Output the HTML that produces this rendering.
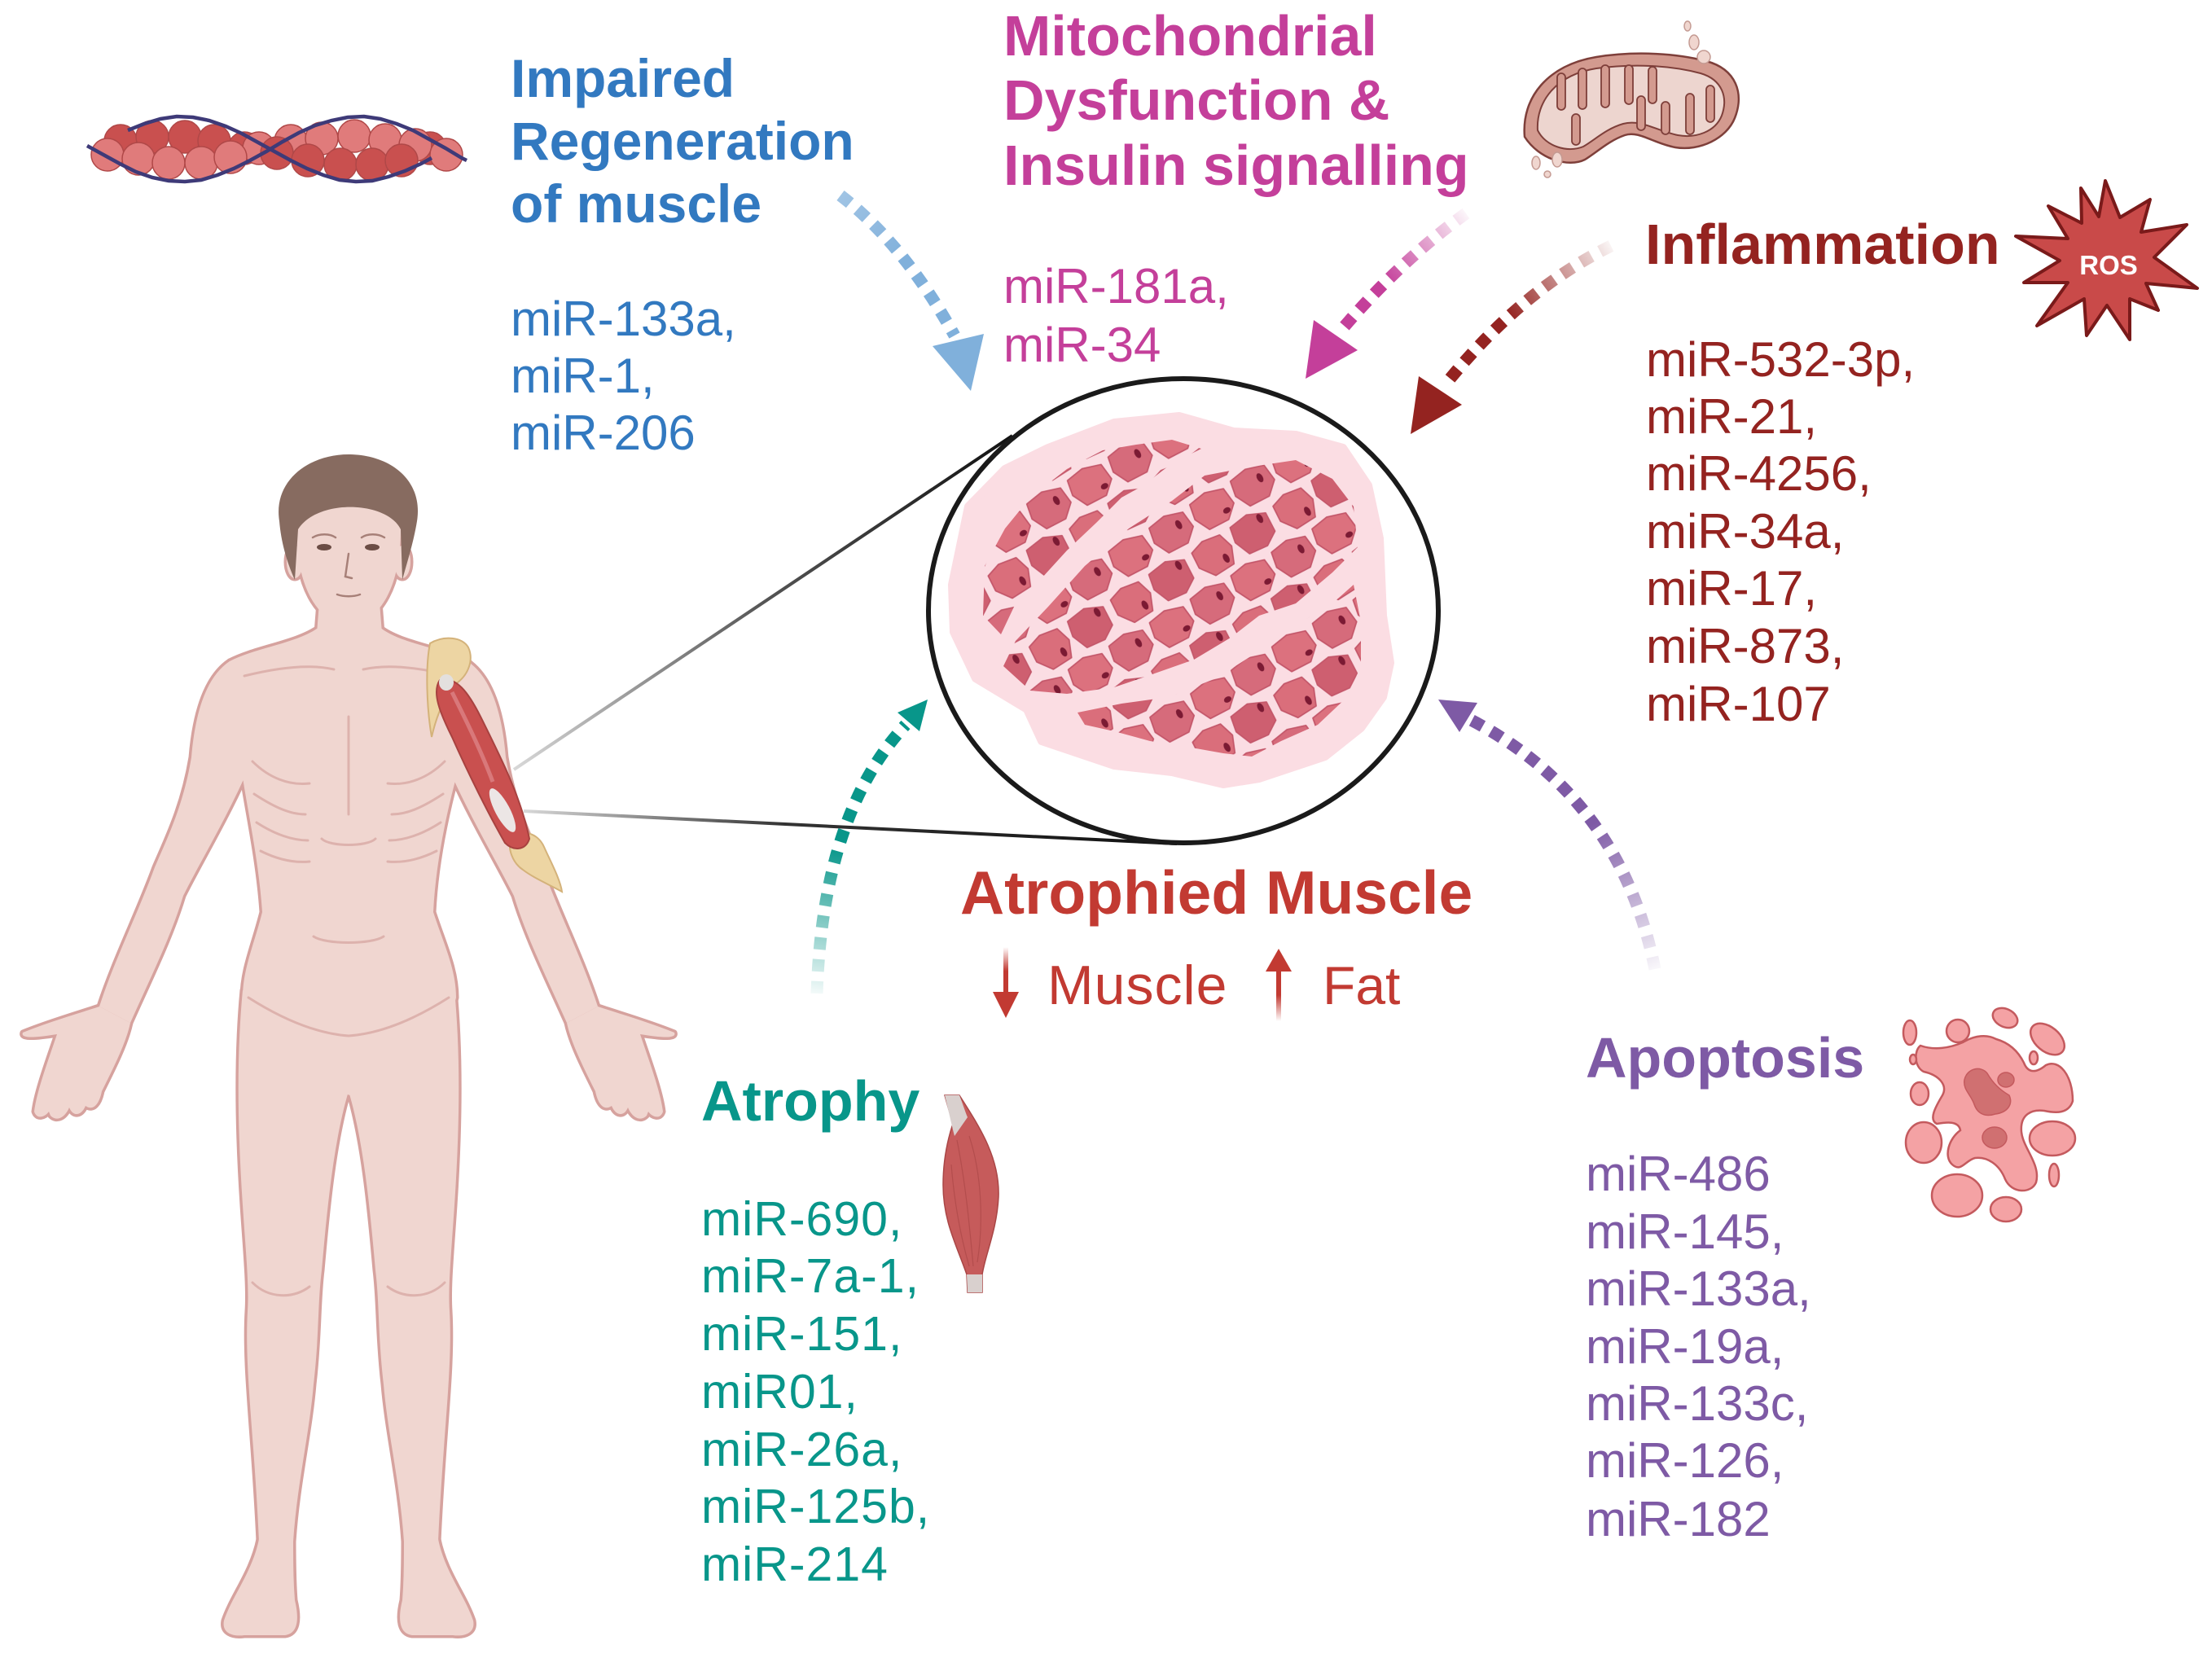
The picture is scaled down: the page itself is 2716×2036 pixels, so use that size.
<!DOCTYPE html>
<html><head><meta charset="utf-8"><style>
html,body{margin:0;padding:0;background:#fff;}
svg{display:block;}
text{font-family:"Liberation Sans",Arial,sans-serif;}
</style></head><body>
<svg width="2716" height="2036" viewBox="0 0 2716 2036" xmlns="http://www.w3.org/2000/svg">
<defs>
<pattern id="cells" patternUnits="userSpaceOnUse" width="96" height="84" patternTransform="rotate(-30) scale(1.2)">
 <g stroke="#C4576A" stroke-width="1.5" stroke-linejoin="round">
  <polygon points="5,8 20,3 39,6 44,22 37,39 15,40 4,25" fill="#DA6E7B"/>
  <polygon points="52,5 73,2 91,10 90,31 76,40 56,38 49,21" fill="#CE5F70"/>
  <polygon points="28,48 47,45 66,51 68,69 55,81 33,80 25,64" fill="#DC717E"/>
  <polygon points="76,48 95,45 114,51 116,69 103,81 81,80 73,64" fill="#D66B7B"/>
  <polygon points="-20,48 -1,45 18,51 20,69 7,81 -15,80 -23,64" fill="#D66B7B"/>
 </g>
 <g fill="#7B1A33">
  <ellipse cx="33" cy="30" rx="3" ry="5"/><ellipse cx="83" cy="12" rx="3" ry="5"/>
  <ellipse cx="58" cy="72" rx="4" ry="3"/><ellipse cx="8" cy="60" rx="3" ry="5"/><ellipse cx="104" cy="60" rx="3" ry="5"/>
 </g>
</pattern>
<linearGradient id="lnUp" gradientUnits="userSpaceOnUse" x1="631" y1="945" x2="1243" y2="535"><stop offset="0" stop-color="#d8d8d8"/><stop offset="0.5" stop-color="#555"/><stop offset="1" stop-color="#111"/></linearGradient>
<linearGradient id="lnLo" gradientUnits="userSpaceOnUse" x1="643" y1="996" x2="1445" y2="1036"><stop offset="0" stop-color="#d8d8d8"/><stop offset="0.4" stop-color="#333"/><stop offset="1" stop-color="#111"/></linearGradient>
<linearGradient id="gBlue" gradientUnits="userSpaceOnUse" x1="1032" y1="240" x2="1110" y2="320"><stop offset="0" stop-color="#80B0DB" stop-opacity="0.75"/><stop offset="1" stop-color="#80B0DB"/></linearGradient>
<linearGradient id="gMag" gradientUnits="userSpaceOnUse" x1="1800" y1="262" x2="1700" y2="345"><stop offset="0" stop-color="#C43F9A" stop-opacity="0.05"/><stop offset="1" stop-color="#C43F9A"/></linearGradient>
<linearGradient id="gRed" gradientUnits="userSpaceOnUse" x1="1978" y1="302" x2="1850" y2="385"><stop offset="0" stop-color="#942320" stop-opacity="0.05"/><stop offset="1" stop-color="#942320"/></linearGradient>
<linearGradient id="gPur" gradientUnits="userSpaceOnUse" x1="2032" y1="1190" x2="1950" y2="1015"><stop offset="0" stop-color="#7E5AA5" stop-opacity="0.05"/><stop offset="1" stop-color="#7E5AA5"/></linearGradient>
<linearGradient id="gTeal" gradientUnits="userSpaceOnUse" x1="1003" y1="1220" x2="1030" y2="1040"><stop offset="0" stop-color="#08968A" stop-opacity="0.05"/><stop offset="1" stop-color="#08968A"/></linearGradient>
<linearGradient id="gDown" gradientUnits="userSpaceOnUse" x1="0" y1="1163" x2="0" y2="1222"><stop offset="0" stop-color="#C23A32" stop-opacity="0"/><stop offset="0.5" stop-color="#C23A32"/></linearGradient>
<linearGradient id="gUp" gradientUnits="userSpaceOnUse" x1="0" y1="1190" x2="0" y2="1254"><stop offset="0.5" stop-color="#C23A32"/><stop offset="1" stop-color="#C23A32" stop-opacity="0"/></linearGradient>
</defs>

<line x1="631" y1="945" x2="1243" y2="535" stroke="url(#lnUp)" stroke-width="4"/>
<line x1="643" y1="996" x2="1445" y2="1036" stroke="url(#lnLo)" stroke-width="4"/>

<ellipse cx="1453" cy="750" rx="313" ry="285" fill="#fff" stroke="#1a1a1a" stroke-width="6"/>
<polygon points="1171,776 1169,718 1189,622 1234,576 1287,550 1368,519 1448,511 1515,530 1591,534 1649,550 1680,596 1694,661 1698,756 1707,814 1698,856 1671,894 1627,929 1546,956 1502,963 1439,948 1368,940 1279,910 1261,871 1198,833" fill="#FBDDE3" stroke="#FBDDE3" stroke-width="10" stroke-linejoin="round"/>
<g fill="url(#cells)" stroke="none">
 <polygon points="1209,695 1234,649 1265,611 1310,576 1354,553 1395,546 1439,540 1475,551 1439,569 1404,596 1377,611 1346,642 1310,676 1279,710 1247,741 1229,779 1207,756"/>
 <polygon points="1232,818 1247,787 1287,745 1332,695 1386,649 1439,615 1479,584 1537,573 1591,565 1636,588 1662,622 1667,672 1636,703 1591,741 1546,756 1511,783 1466,810 1412,829 1368,844 1310,852 1265,848"/>
 <polygon points="1323,875 1377,864 1435,856 1493,833 1542,802 1591,768 1636,741 1662,718 1671,764 1671,818 1654,856 1618,890 1573,910 1537,929 1502,925 1457,917 1412,910 1368,898 1332,890"/>
</g>

<g stroke="#B04848" stroke-width="1.5">
 <g fill="#C9504F">
  <circle cx="148" cy="173" r="20"/><circle cx="187" cy="168" r="20"/><circle cx="227" cy="168" r="20"/><circle cx="263" cy="173" r="20"/><circle cx="300" cy="182" r="20"/><circle cx="528" cy="182" r="20"/>
 </g>
 <g fill="#E07B7B">
  <circle cx="318" cy="182" r="20"/><circle cx="357" cy="173" r="20"/><circle cx="395" cy="170" r="20"/><circle cx="435" cy="167" r="20"/><circle cx="473" cy="172" r="20"/><circle cx="510" cy="178" r="20"/>
  <circle cx="132" cy="190" r="20"/><circle cx="170" cy="195" r="20"/><circle cx="207" cy="200" r="20"/><circle cx="247" cy="200" r="20"/><circle cx="283" cy="193" r="20"/><circle cx="548" cy="190" r="20"/>
 </g>
 <g fill="#C9504F">
  <circle cx="340" cy="188" r="20"/><circle cx="378" cy="197" r="20"/><circle cx="418" cy="202" r="20"/><circle cx="457" cy="202" r="20"/><circle cx="493" cy="197" r="20"/>
 </g>
</g>
<g fill="none" stroke="#3E3A78" stroke-width="4.5">
 <polyline points="107,179 127,190 147,201 167,211 187,218 207,222 227,223 247,221 267,215 287,207 307,197 327,186 347,174 367,163 387,154 407,148 427,144 447,143 467,146 487,152 507,160 527,171 547,182 567,194 573,197"/>
 <polyline points="157,160 177,152 197,146 217,143 237,144 257,148 277,155 297,164 317,175 337,186 357,197 377,207 397,215 417,221 437,223 457,222 477,217 497,210 517,201 530,194"/>
</g>

<g stroke="#7E3F3A" stroke-width="2.5" stroke-linejoin="round">
 <path d="M1872,168 C1868,120 1900,80 1960,70 C2010,62 2060,66 2095,75 C2132,85 2142,115 2130,145 C2120,170 2087,186 2057,181 C2030,176 2012,160 1995,166 C1975,173 1962,186 1946,196 C1926,206 1890,196 1872,168 Z" fill="#D39A8F"/>
 <path d="M1888,160 C1886,125 1910,92 1960,84 C2005,78 2050,80 2088,90 C2115,98 2122,120 2114,142 C2106,162 2082,170 2060,166 C2035,161 2015,146 1993,152 C1972,158 1958,172 1944,180 C1925,188 1898,180 1888,160 Z" fill="#EDD5CF" stroke-width="2"/>
 <g fill="#D39A8F" stroke-width="1.8">
  <rect x="1912" y="90" width="10" height="45" rx="5"/><rect x="1938" y="84" width="10" height="50" rx="5"/><rect x="1966" y="80" width="10" height="52" rx="5"/>
  <rect x="1995" y="80" width="10" height="48" rx="5"/><rect x="2024" y="82" width="10" height="45" rx="5"/>
  <rect x="2010" y="118" width="10" height="42" rx="5"/><rect x="2040" y="125" width="10" height="40" rx="5"/><rect x="2070" y="115" width="10" height="50" rx="5"/>
  <rect x="2095" y="105" width="10" height="45" rx="5"/><rect x="1930" y="140" width="10" height="38" rx="5"/>
 </g>
 <g fill="#F0D6CF" stroke="#C49A92" stroke-width="1.5">
  <ellipse cx="2072" cy="32" rx="4" ry="6"/><ellipse cx="2080" cy="52" rx="6" ry="9"/><ellipse cx="2092" cy="70" rx="8" ry="8"/>
  <ellipse cx="1886" cy="200" rx="5" ry="8"/><ellipse cx="1900" cy="214" rx="4" ry="4"/><ellipse cx="1912" cy="196" rx="6" ry="9"/>
 </g>
</g>

<polygon points="2585,222 2603,267 2640,245 2629,285 2685,276 2645,316 2698,354 2635,348 2650,381 2615,367 2615,417 2587,375 2562,412 2559,367 2501,400 2539,347 2485,347 2529,320 2475,290 2539,293 2515,253 2556,274 2555,231 2577,266" fill="#C94A49" stroke="#7A1A1A" stroke-width="4" stroke-linejoin="round"/>
<text x="2589" y="337" font-size="33" font-weight="bold" fill="#fff" text-anchor="middle">ROS</text>

<g fill="#F4A2A4" stroke="#C45A5E" stroke-width="2.5">
 <path d="M2358,1284 C2375,1290 2394,1287 2410,1280 C2425,1271 2440,1270 2451,1276 C2465,1280 2477,1289 2485,1305 C2490,1318 2500,1318 2512,1308 C2528,1300 2545,1320 2545,1352 C2540,1368 2524,1367 2510,1364 C2495,1362 2480,1368 2482,1390 C2484,1410 2506,1430 2500,1452 C2494,1466 2470,1466 2462,1448 C2455,1430 2440,1420 2425,1422 C2413,1425 2408,1440 2397,1430 C2386,1420 2393,1398 2407,1388 C2405,1376 2390,1378 2378,1380 C2368,1375 2376,1360 2385,1345 C2392,1332 2380,1320 2362,1316 C2350,1310 2350,1290 2358,1284 Z"/>
 <ellipse cx="2345" cy="1268" rx="8" ry="15"/><ellipse cx="2404" cy="1266" rx="14" ry="14"/>
 <ellipse cx="2462" cy="1250" rx="16" ry="11" transform="rotate(25 2462 1250)"/>
 <ellipse cx="2514" cy="1276" rx="24" ry="15" transform="rotate(40 2514 1276)"/>
 <ellipse cx="2349" cy="1301" rx="4" ry="6"/><ellipse cx="2497" cy="1299" rx="5" ry="8"/>
 <ellipse cx="2357" cy="1343" rx="11" ry="14"/><ellipse cx="2362" cy="1403" rx="22" ry="25"/>
 <ellipse cx="2520" cy="1398" rx="28" ry="21"/><ellipse cx="2522" cy="1443" rx="6" ry="14"/>
 <ellipse cx="2403" cy="1468" rx="31" ry="26"/><ellipse cx="2463" cy="1485" rx="19" ry="15"/>
</g>
<g fill="#D07071" stroke="#C45A5E" stroke-width="1.5">
 <path d="M2412,1326 C2415,1312 2432,1308 2440,1318 C2447,1330 2455,1338 2467,1345 C2472,1356 2465,1366 2450,1368 C2438,1372 2428,1368 2424,1356 C2420,1344 2410,1338 2412,1326 Z"/>
 <ellipse cx="2449" cy="1397" rx="15" ry="13"/><ellipse cx="2463" cy="1326" rx="10" ry="9"/>
</g>

<g stroke="#D6A29E" stroke-width="7" stroke-linejoin="round" fill="#D6A29E">
 <path d="M392,740 L466,740 L470,790 L388,790 Z"/>
 <path d="M392,770 L466,770 C490,790 540,795 575,812 C595,830 590,880 560,955 C548,1000 535,1060 532,1120 C545,1160 560,1190 560,1225 C545,1290 480,1330 430,1345 C380,1330 315,1290 298,1225 C298,1190 312,1160 322,1120 C318,1060 305,1000 298,955 C268,880 262,830 282,812 C315,795 365,790 392,770 Z"/>
 <path d="M282,812 C255,830 240,870 235,930 C225,990 205,1030 190,1065 C170,1120 140,1180 122,1236 L160,1256 C185,1200 210,1150 225,1100 C245,1060 275,1010 300,955 Z"/>
 <path d="M122,1236 C95,1245 60,1255 28,1268 C25,1275 40,1275 70,1270 C60,1300 45,1340 42,1365 C45,1375 55,1372 60,1365 L62,1370 C70,1378 80,1372 85,1360 C90,1372 100,1370 105,1358 C115,1365 122,1355 125,1340 C140,1310 155,1280 160,1256 Z"/>
 <path d="M574,812 C601,830 616,870 621,930 C631,990 651,1030 666,1065 C686,1120 716,1180 734,1236 L696,1256 C671,1200 646,1150 631,1100 C611,1060 581,1010 556,955 Z"/>
 <path d="M734,1236 C761,1245 796,1255 828,1268 C831,1275 816,1275 786,1270 C796,1300 811,1340 814,1365 C811,1375 801,1372 796,1365 L794,1370 C786,1378 776,1372 771,1360 C766,1372 756,1370 751,1358 C741,1365 734,1355 731,1340 C716,1310 701,1280 696,1256 Z"/>
 <path d="M298,1216 C290,1300 292,1390 298,1480 C302,1540 306,1580 304,1610 C300,1680 312,1760 318,1893 L360,1893 C365,1820 380,1760 385,1700 C392,1640 390,1600 395,1560 C402,1480 410,1400 428,1340 Z"/>
 <path d="M318,1890 C310,1930 285,1960 275,1990 C272,2005 285,2010 300,2008 L350,2008 C365,2006 368,1990 362,1965 C360,1940 360,1915 360,1890 Z"/>
 <path d="M558,1216 C566,1300 564,1390 558,1480 C554,1540 550,1580 552,1610 C556,1680 544,1760 538,1893 L496,1893 C491,1820 476,1760 471,1700 C464,1640 466,1600 461,1560 C454,1480 446,1400 428,1340 Z"/>
 <path d="M538,1890 C546,1930 571,1960 581,1990 C584,2005 571,2010 556,2008 L506,2008 C491,2006 488,1990 494,1965 C496,1940 496,1915 496,1890 Z"/>
 <ellipse cx="362" cy="690" rx="10" ry="20"/><ellipse cx="494" cy="690" rx="10" ry="20"/>
 <path d="M364,640 C362,720 390,765 428,768 C466,765 494,720 492,640 C480,615 380,615 364,640 Z"/>
</g>
<g fill="#F0D6D0" stroke="none">
 <path d="M392,740 L466,740 L470,790 L388,790 Z"/>
 <path d="M392,770 L466,770 C490,790 540,795 575,812 C595,830 590,880 560,955 C548,1000 535,1060 532,1120 C545,1160 560,1190 560,1225 C545,1290 480,1330 430,1345 C380,1330 315,1290 298,1225 C298,1190 312,1160 322,1120 C318,1060 305,1000 298,955 C268,880 262,830 282,812 C315,795 365,790 392,770 Z"/>
 <path d="M282,812 C255,830 240,870 235,930 C225,990 205,1030 190,1065 C170,1120 140,1180 122,1236 L160,1256 C185,1200 210,1150 225,1100 C245,1060 275,1010 300,955 Z"/>
 <path d="M122,1236 C95,1245 60,1255 28,1268 C25,1275 40,1275 70,1270 C60,1300 45,1340 42,1365 C45,1375 55,1372 60,1365 L62,1370 C70,1378 80,1372 85,1360 C90,1372 100,1370 105,1358 C115,1365 122,1355 125,1340 C140,1310 155,1280 160,1256 Z"/>
 <path d="M574,812 C601,830 616,870 621,930 C631,990 651,1030 666,1065 C686,1120 716,1180 734,1236 L696,1256 C671,1200 646,1150 631,1100 C611,1060 581,1010 556,955 Z"/>
 <path d="M734,1236 C761,1245 796,1255 828,1268 C831,1275 816,1275 786,1270 C796,1300 811,1340 814,1365 C811,1375 801,1372 796,1365 L794,1370 C786,1378 776,1372 771,1360 C766,1372 756,1370 751,1358 C741,1365 734,1355 731,1340 C716,1310 701,1280 696,1256 Z"/>
 <path d="M298,1216 C290,1300 292,1390 298,1480 C302,1540 306,1580 304,1610 C300,1680 312,1760 318,1893 L360,1893 C365,1820 380,1760 385,1700 C392,1640 390,1600 395,1560 C402,1480 410,1400 428,1340 Z"/>
 <path d="M318,1890 C310,1930 285,1960 275,1990 C272,2005 285,2010 300,2008 L350,2008 C365,2006 368,1990 362,1965 C360,1940 360,1915 360,1890 Z"/>
 <path d="M558,1216 C566,1300 564,1390 558,1480 C554,1540 550,1580 552,1610 C556,1680 544,1760 538,1893 L496,1893 C491,1820 476,1760 471,1700 C464,1640 466,1600 461,1560 C454,1480 446,1400 428,1340 Z"/>
 <path d="M538,1890 C546,1930 571,1960 581,1990 C584,2005 571,2010 556,2008 L506,2008 C491,2006 488,1990 494,1965 C496,1940 496,1915 496,1890 Z"/>
 <ellipse cx="362" cy="690" rx="10" ry="20"/><ellipse cx="494" cy="690" rx="10" ry="20"/>
 <path d="M364,640 C362,720 390,765 428,768 C466,765 494,720 492,640 C480,615 380,615 364,640 Z"/>
</g>
<g fill="none" stroke="#DDB2AD" stroke-width="3" stroke-linecap="round">
 <path d="M300,830 C340,820 380,815 410,822"/><path d="M556,830 C516,820 476,815 446,822"/>
 <path d="M310,935 C330,955 355,965 380,962"/><path d="M546,935 C526,955 501,965 476,962"/>
 <path d="M312,975 C335,990 355,1000 375,1000"/><path d="M544,975 C521,990 501,1000 481,1000"/>
 <path d="M315,1010 C338,1025 360,1032 378,1032"/><path d="M541,1010 C518,1025 496,1032 478,1032"/>
 <path d="M320,1045 C340,1055 360,1060 380,1058"/><path d="M536,1045 C516,1055 496,1060 476,1058"/>
 <path d="M428,880 L428,1000"/><path d="M385,1150 C400,1160 456,1160 471,1150"/>
 <path d="M305,1225 C360,1260 400,1270 428,1272 C456,1270 496,1260 551,1225"/>
 <path d="M310,1575 C330,1595 360,1595 380,1580"/><path d="M546,1575 C526,1595 496,1595 476,1580"/>
 <path d="M395,1030 C405,1040 451,1040 461,1030"/>
</g>
<path d="M343,640 C335,590 380,557 430,558 C480,559 520,590 512,640 C508,665 500,690 494,712 L492,650 C475,615 390,612 366,650 L362,712 C352,690 345,665 343,640 Z" fill="#876B60"/>
<g fill="#6B4D45"><ellipse cx="398" cy="672" rx="9" ry="4"/><ellipse cx="457" cy="672" rx="9" ry="4"/></g>
<g fill="none" stroke="#A78078" stroke-width="2.5" stroke-linecap="round">
 <path d="M384,660 C392,655 405,655 412,660"/><path d="M444,660 C451,655 464,655 472,660"/>
 <path d="M428,680 L424,708 L432,710"/><path d="M414,730 C422,733 434,733 442,730"/>
</g>
<g stroke="#D4B27A" stroke-width="2" fill="#EDD5A3">
 <path d="M528,790 C545,780 568,782 575,795 C582,810 575,828 562,838 C550,850 538,870 530,905 C524,870 522,820 528,790 Z"/>
 <path d="M628,1028 C640,1018 660,1022 668,1040 C676,1058 688,1080 690,1095 C672,1085 655,1078 642,1068 C630,1060 622,1042 628,1028 Z"/>
</g>
<path d="M540,835 C560,830 575,850 590,880 C615,930 640,980 650,1030 C645,1045 630,1045 620,1035 C600,1000 575,950 555,905 C540,875 530,850 540,835 Z" fill="#C9504F" stroke="#A84240" stroke-width="2"/>
<path d="M555,850 C570,880 590,920 605,960" stroke="#D9787A" stroke-width="5" fill="none"/>
<ellipse cx="617" cy="995" rx="9" ry="30" transform="rotate(-28 617 995)" fill="#ECE6E5"/>
<ellipse cx="548" cy="838" rx="9" ry="10" fill="#E3E0DE"/>

<path d="M1160,1345 L1178,1345 C1200,1380 1228,1420 1226,1470 C1224,1510 1210,1540 1206,1565 L1206,1587 L1188,1587 L1187,1565 C1175,1530 1158,1500 1158,1455 C1158,1420 1165,1395 1170,1380 Z" fill="#C65B5B" stroke="#A94646" stroke-width="1.5"/>
<path d="M1160,1345 L1178,1345 C1182,1355 1185,1365 1188,1372 L1172,1395 C1168,1380 1165,1365 1160,1345 Z" fill="#D9D0CE"/>
<path d="M1187,1565 L1206,1565 L1206,1587 L1188,1587 Z" fill="#D9D0CE"/>
<g stroke="#B34D4D" stroke-width="1.2" fill="none">
 <path d="M1175,1400 C1185,1450 1190,1500 1195,1555"/><path d="M1190,1395 C1205,1440 1208,1500 1200,1550"/><path d="M1168,1430 C1172,1480 1180,1520 1190,1555"/>
</g>

<g fill="none" stroke-width="15" stroke-dasharray="15 12">
 <path d="M1032,240 Q1110,300 1172,412" stroke="url(#gBlue)"/>
 <path d="M1800,262 Q1720,320 1648,404" stroke="url(#gMag)"/>
 <path d="M1978,302 Q1870,355 1778,468" stroke="url(#gRed)"/>
 <path d="M2032,1190 Q1990,980 1806,884" stroke="url(#gPur)"/>
 <path d="M1003,1220 Q1010,1000 1112,890" stroke="url(#gTeal)"/>
</g>
<polygon points="1145,425 1208,410 1192,480" fill="#80B0DB"/>
<polygon points="1613,393 1667,430 1603,465" fill="#C43F9A"/>
<polygon points="1742,462 1795,497 1732,533" fill="#942320"/>
<polygon points="1766,859 1814,863 1792,899" fill="#7E5AA5"/>
<polygon points="1102,875 1139,859 1129,898" fill="#08968A"/>

<line x1="1235" y1="1163" x2="1235" y2="1222" stroke="url(#gDown)" stroke-width="6"/>
<polygon points="1219,1218 1251,1218 1235,1250" fill="#C23A32"/>
<line x1="1570" y1="1190" x2="1570" y2="1254" stroke="url(#gUp)" stroke-width="6"/>
<polygon points="1554,1193 1586,1193 1570,1165" fill="#C23A32"/>

<g fill="#3279C0">
 <text x="627" y="119" font-size="66" font-weight="bold">Impaired</text>
 <text x="627" y="196" font-size="66" font-weight="bold">Regeneration</text>
 <text x="627" y="273" font-size="66" font-weight="bold">of muscle</text>
 <text x="627" y="412" font-size="60">miR-133a,</text>
 <text x="627" y="482" font-size="60">miR-1,</text>
 <text x="627" y="552" font-size="60">miR-206</text>
</g>
<g fill="#C43F9A">
 <text x="1232" y="68" font-size="70" font-weight="bold">Mitochondrial</text>
 <text x="1232" y="147" font-size="70" font-weight="bold">Dysfunction &amp;</text>
 <text x="1232" y="227" font-size="70" font-weight="bold">Insulin signalling</text>
 <text x="1232" y="372" font-size="60">miR-181a,</text>
 <text x="1232" y="444" font-size="60">miR-34</text>
</g>
<g fill="#942320">
 <text x="2020" y="324" font-size="70" font-weight="bold">Inflammation</text>
 <text x="2021" y="462" font-size="60">miR-532-3p,</text>
 <text x="2021" y="532" font-size="60">miR-21,</text>
 <text x="2021" y="602" font-size="60">miR-4256,</text>
 <text x="2021" y="673" font-size="60">miR-34a,</text>
 <text x="2021" y="743" font-size="60">miR-17,</text>
 <text x="2021" y="814" font-size="60">miR-873,</text>
 <text x="2021" y="885" font-size="60">miR-107</text>
</g>
<g fill="#C23A32">
 <text x="1179" y="1122" font-size="75" font-weight="bold">Atrophied Muscle</text>
 <text x="1286" y="1233" font-size="68" letter-spacing="1">Muscle</text>
 <text x="1624" y="1233" font-size="66">Fat</text>
</g>
<g fill="#08968A">
 <text x="861" y="1376" font-size="70" font-weight="bold">Atrophy</text>
 <text x="861" y="1517" font-size="59" letter-spacing="1">miR-690,</text>
 <text x="861" y="1587" font-size="59" letter-spacing="1">miR-7a-1,</text>
 <text x="861" y="1658" font-size="59" letter-spacing="1">miR-151,</text>
 <text x="861" y="1729" font-size="59" letter-spacing="1">miR01,</text>
 <text x="861" y="1800" font-size="59" letter-spacing="1">miR-26a,</text>
 <text x="861" y="1870" font-size="59" letter-spacing="1">miR-125b,</text>
 <text x="861" y="1941" font-size="59" letter-spacing="1">miR-214</text>
</g>
<g fill="#7E5AA5">
 <text x="1947" y="1323" font-size="70" font-weight="bold">Apoptosis</text>
 <text x="1947" y="1462" font-size="60">miR-486</text>
 <text x="1947" y="1533" font-size="60">miR-145,</text>
 <text x="1947" y="1603" font-size="60">miR-133a,</text>
 <text x="1947" y="1674" font-size="60">miR-19a,</text>
 <text x="1947" y="1744" font-size="60">miR-133c,</text>
 <text x="1947" y="1814" font-size="60">miR-126,</text>
 <text x="1947" y="1886" font-size="60">miR-182</text>
</g>
</svg>
</body></html>
